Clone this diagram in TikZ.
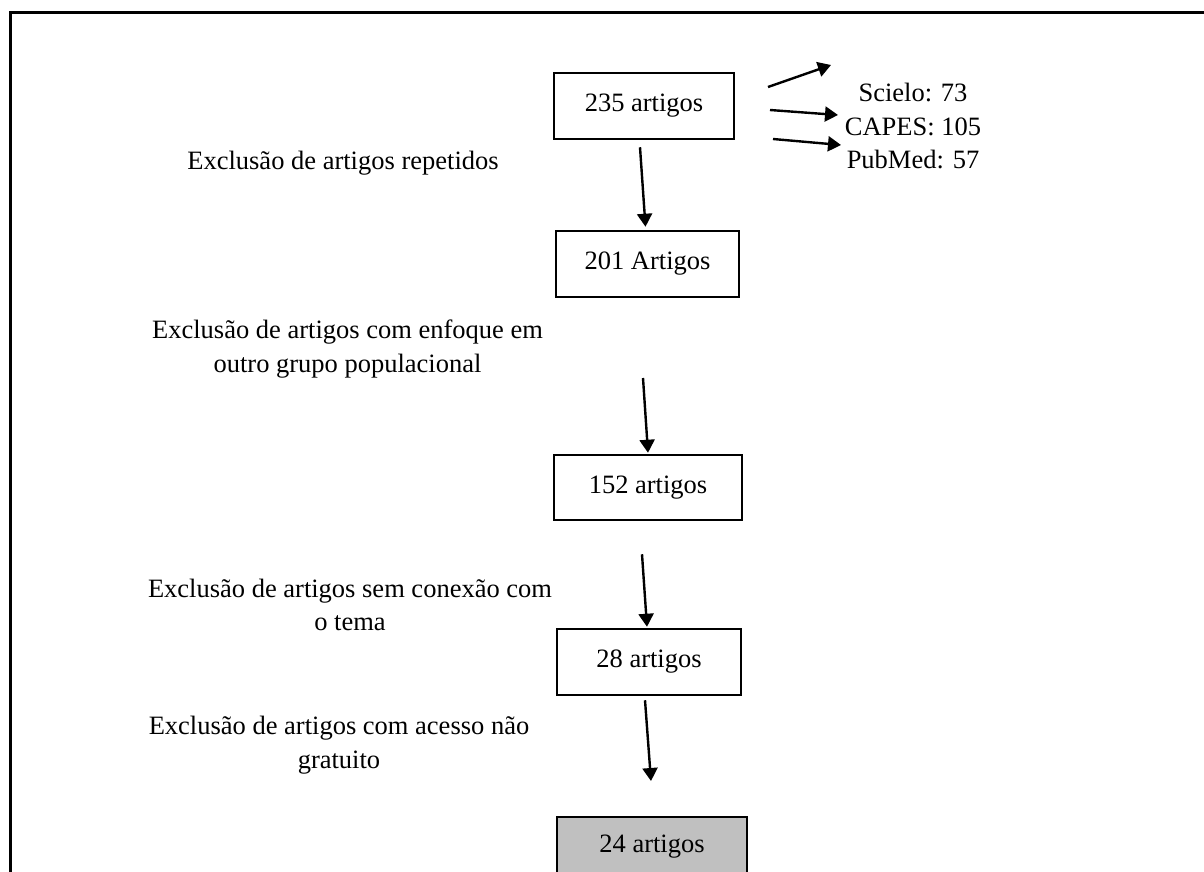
\documentclass[tikz,border=0pt]{standalone}
\usepackage{fontspec}
\setmainfont{Liberation Serif}
\usetikzlibrary{arrows.meta}
\newcommand{\fs}{\fontsize{26.5}{33.5}\selectfont}
\tikzset{
  stepbox/.style={draw, line width=2.5pt, inner sep=0pt, font=\fs, text=black},
  lbl/.style={align=center, inner sep=0pt, font=\fs},
  arr/.style={line width=2.4pt, -{Triangle[length=13pt,width=15pt]}},
}
\begin{document}
\begin{tikzpicture}[x=1pt,y=-1pt]
\useasboundingbox (0,0) rectangle (1204,872);
\clip (0,0) rectangle (1204,872);
\draw[line width=3pt] (10,1000) -- (10,13) -- (1300,13);

\node[stepbox, minimum width=180pt, minimum height=66pt] (b235) at (644,106) {235 artigos};
\node[stepbox, minimum width=183pt, minimum height=66pt] (b201) at (647.5,264) {201 Artigos};
\node[stepbox, minimum width=188pt, minimum height=65pt] (b152) at (648,487.5) {152 artigos};
\node[stepbox, minimum width=184pt, minimum height=66pt] (b28) at (649,662) {28 artigos};
\node[stepbox, fill={rgb,255:red,192;green,192;blue,192}, minimum width=190pt, minimum height=60pt] (b24) at (652,847) {24 artigos};

\node[lbl] (db) at (913,126) {Scielo: 73\\CAPES: 105\\PubMed: 57};

\node[lbl] (l1) at (343,163) {Exclusão de artigos repetidos};
\node[lbl] (l2) at (347.5,349) {Exclusão de artigos com enfoque em\\outro grupo populacional};
\node[lbl] (l3) at (350,605) {Exclusão de artigos sem conexão com\\o tema};
\node[lbl] (l4) at (339,745) {Exclusão de artigos com acesso não\\gratuito};

\coordinate (r1s) at (768,87);  \coordinate (r1e) at (831,65);
\coordinate (r2s) at (770,110); \coordinate (r2e) at (838,115);
\coordinate (r3s) at (773,139); \coordinate (r3e) at (841,145);
\draw[arr] (r1s) -- (r1e);
\draw[arr] (r2s) -- (r2e);
\draw[arr] (r3s) -- (r3e);

\coordinate (a2s) at (643,378);
\coordinate (a4e) at (651,781);
\draw[arr] ([xshift=-4pt,yshift=-7pt]b235.south) -- ([xshift=-2pt,yshift=3pt]b201.north);
\draw[arr] (a2s) -- ([xshift=0pt,yshift=1pt]b152.north);
\draw[arr] ([xshift=-6pt,yshift=-33pt]b152.south) -- ([xshift=-2pt,yshift=1pt]b28.north);
\draw[arr] ([xshift=-4pt,yshift=-4pt]b28.south) -- (a4e);
\end{tikzpicture}
\end{document}
